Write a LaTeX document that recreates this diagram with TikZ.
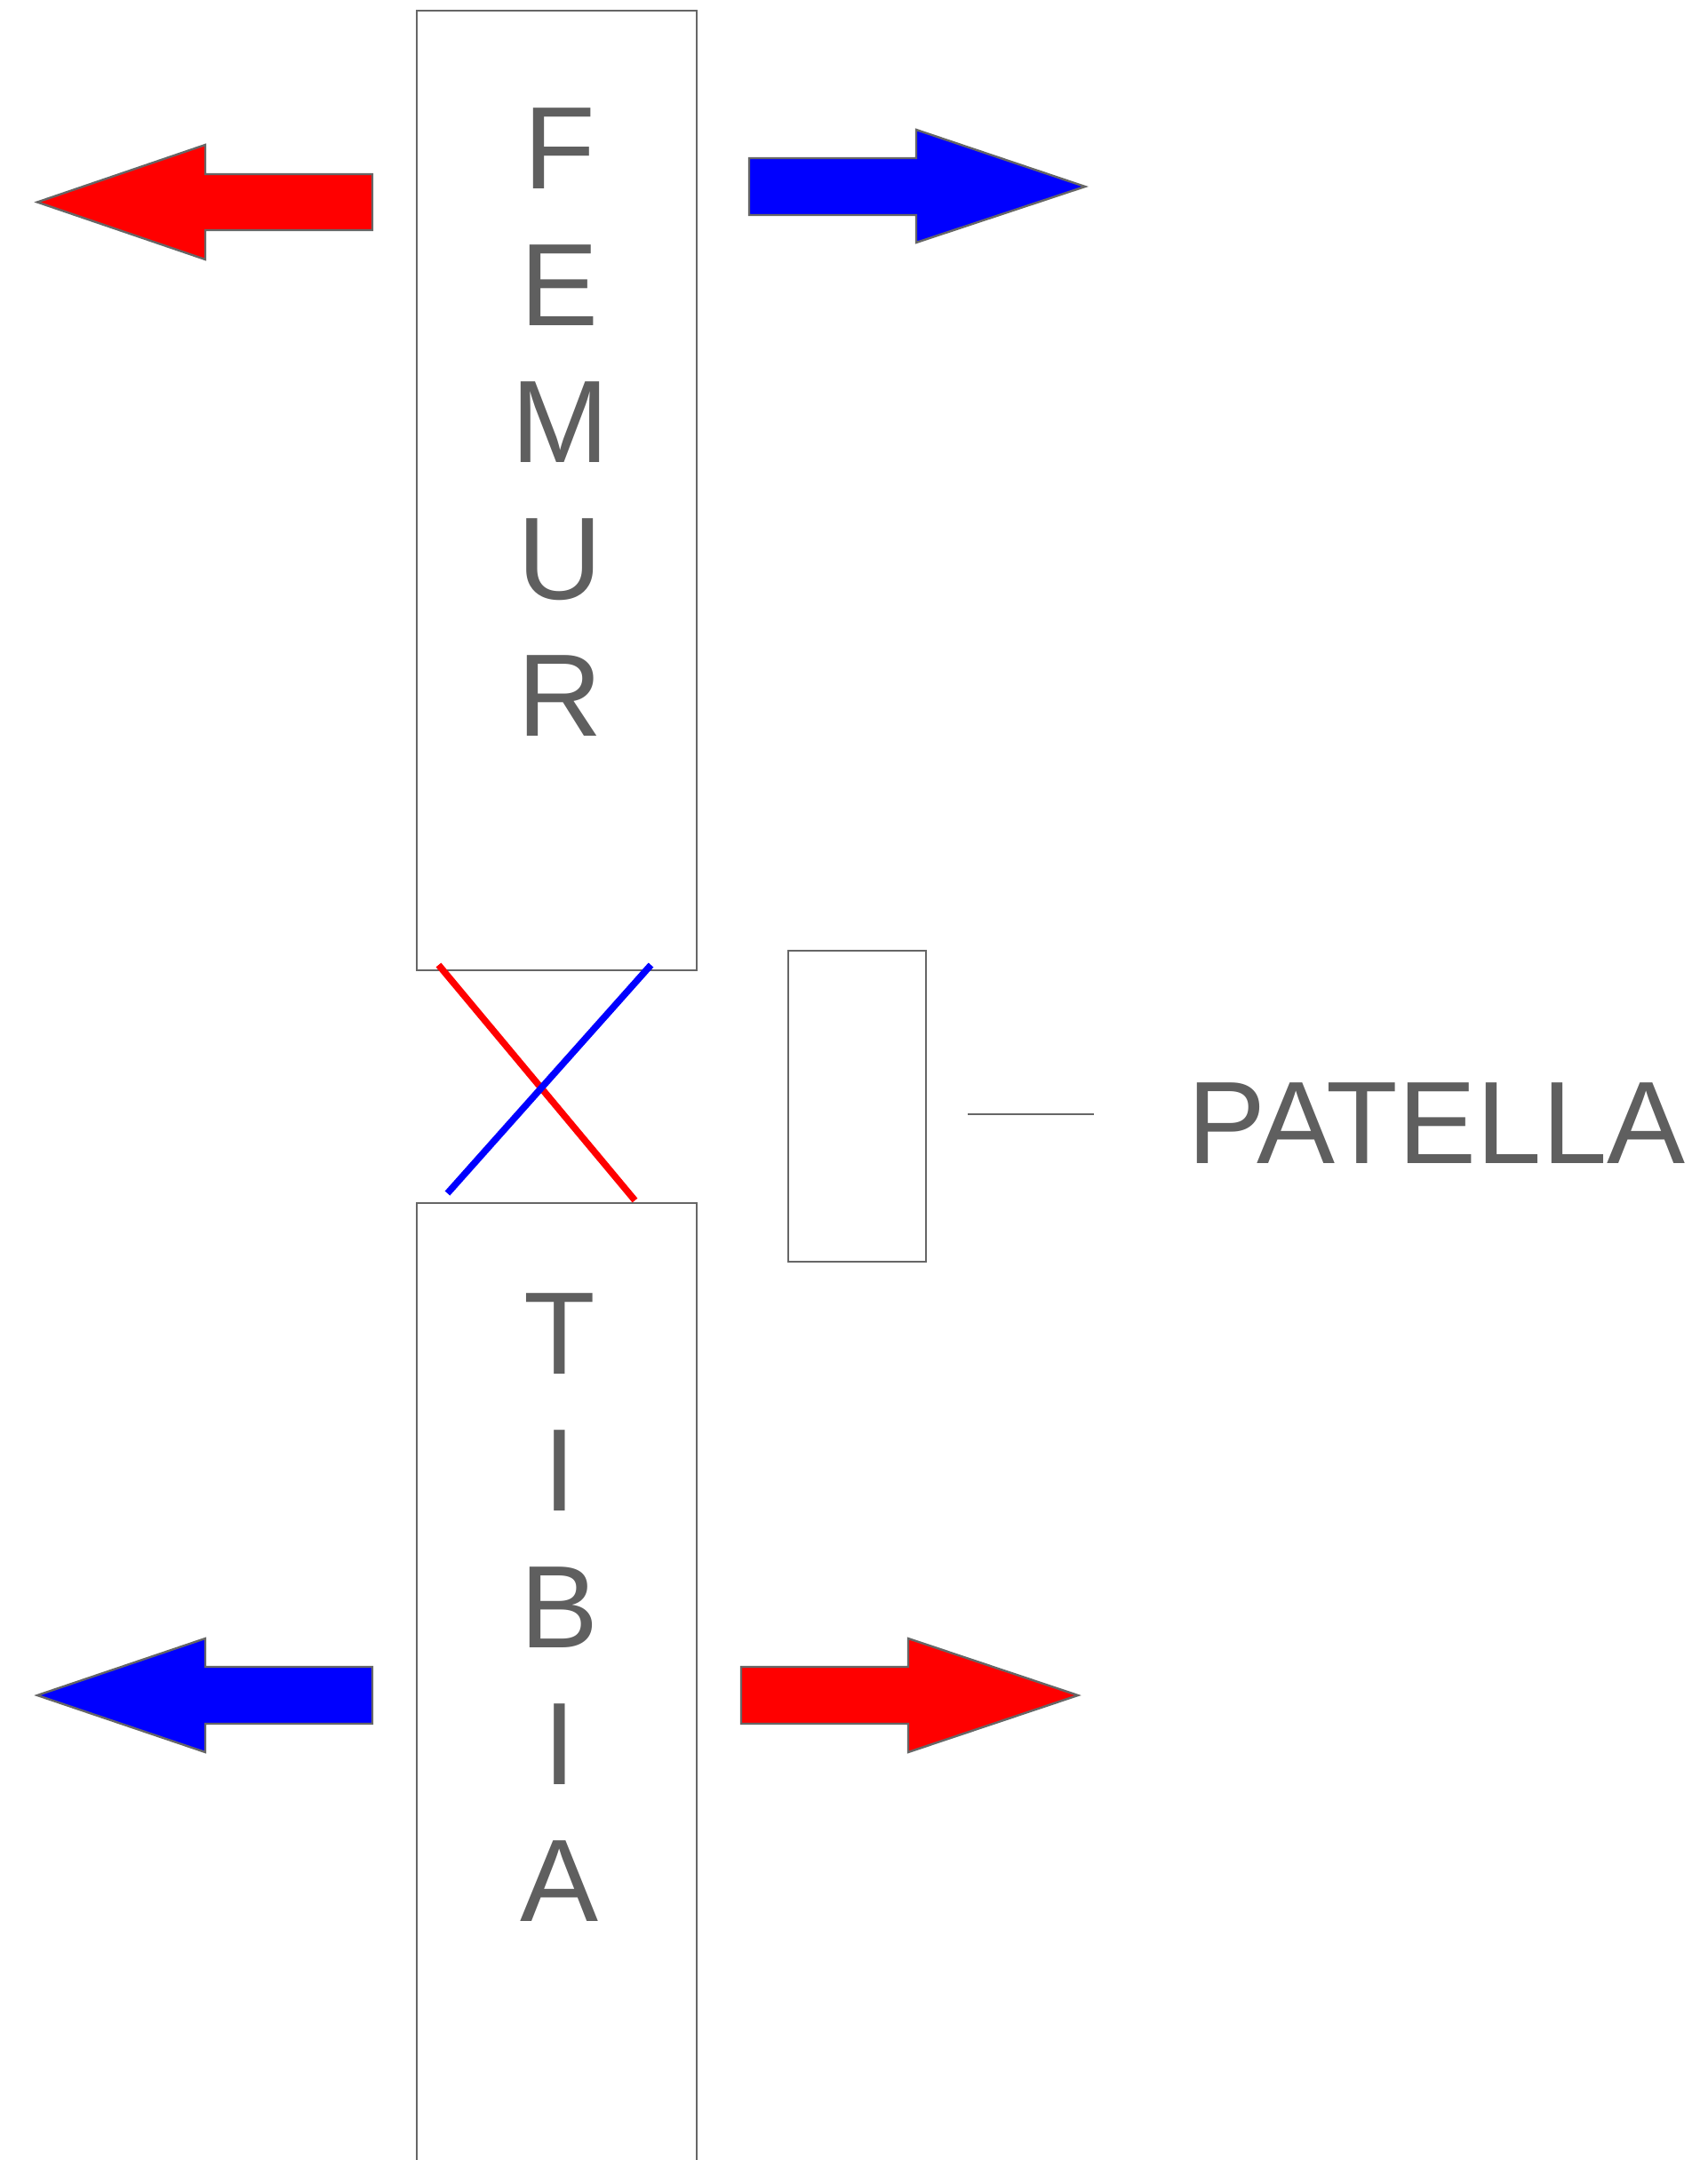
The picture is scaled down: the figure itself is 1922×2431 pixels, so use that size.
\documentclass[tikz,border=0pt]{standalone}
\usepackage{fontspec}
\setmainfont{Liberation Sans}
\definecolor{txtgray}{HTML}{5F5F5F}
\definecolor{edgegray}{HTML}{666666}
\definecolor{pred}{HTML}{FF0000}
\definecolor{pblue}{HTML}{0000FF}
\tikzset{
  bonebox/.style={draw=edgegray, line width=1.2pt, fill=white},
  bigarrow/.style={draw=edgegray, line width=1.2pt, line join=miter},
  letter/.style={text=txtgray, font=\fontsize{66}{77}\selectfont, inner sep=0pt, anchor=base},
  ligament/.style={line width=3.75pt, line cap=butt},
  pointer/.style={draw=edgegray, line width=1pt}
}
\begin{document}
\begin{tikzpicture}[x=0.5pt,y=-0.5pt]
\useasboundingbox (0,0) rectangle (1922,2431);
\clip (0,0) rectangle (1922,2431);
% bones
\draw[bonebox] (469,12) rectangle (784,1092);
\draw[bonebox] (469,1354) rectangle (784,2460);
\draw[bonebox] (887,1070) rectangle (1042,1420);
% femur letters
\node[letter] (f1) at (630,212) {F};
\node[letter] (f2) at (630,366) {E};
\node[letter] (f3) at (630,520) {M};
\node[letter] (f4) at (630,674) {U};
\node[letter] (f5) at (630,828) {R};
% tibia letters
\node[letter] (t1) at (630,1546) {T};
\node[letter] (t2) at (630,1700) {I};
\node[letter] (t3) at (630,1854) {B};
\node[letter] (t4) at (630,2008) {I};
\node[letter] (t5) at (630,2162) {A};
% ligaments
\coordinate (r1) at (493.5,1086);
\coordinate (r2) at (714.5,1351);
\coordinate (b1) at (732.5,1086);
\coordinate (b2) at (503.5,1343);
\draw[ligament, pred] (r1) -- (r2);
\draw[ligament, pblue] (b1) -- (b2);
% patella label
\coordinate (p1) at (1089,1254);
\coordinate (p2) at (1231,1254);
\draw[pointer] (p1) -- (p2);
\node[text=txtgray, inner sep=0pt, anchor=base west, font=\fontsize{66}{77}\selectfont] (patlabel) at (1336,1309) {PATELLA};
% arrows
\draw[bigarrow, fill=pred] (419,196) -- (231,196) -- (231,163) -- (42,227.5) -- (231,292) -- (231,259) -- (419,259) -- cycle;
\draw[bigarrow, fill=pblue] (843,178) -- (1031,178) -- (1031,146) -- (1221,210) -- (1031,273) -- (1031,242) -- (843,242) -- cycle;
\draw[bigarrow, fill=pblue] (419,1876) -- (231,1876) -- (231,1844) -- (42,1908) -- (231,1972) -- (231,1940) -- (419,1940) -- cycle;
\draw[bigarrow, fill=pred] (834,1876) -- (1022,1876) -- (1022,1844) -- (1213,1908) -- (1022,1972) -- (1022,1940) -- (834,1940) -- cycle;
\end{tikzpicture}
\end{document}
